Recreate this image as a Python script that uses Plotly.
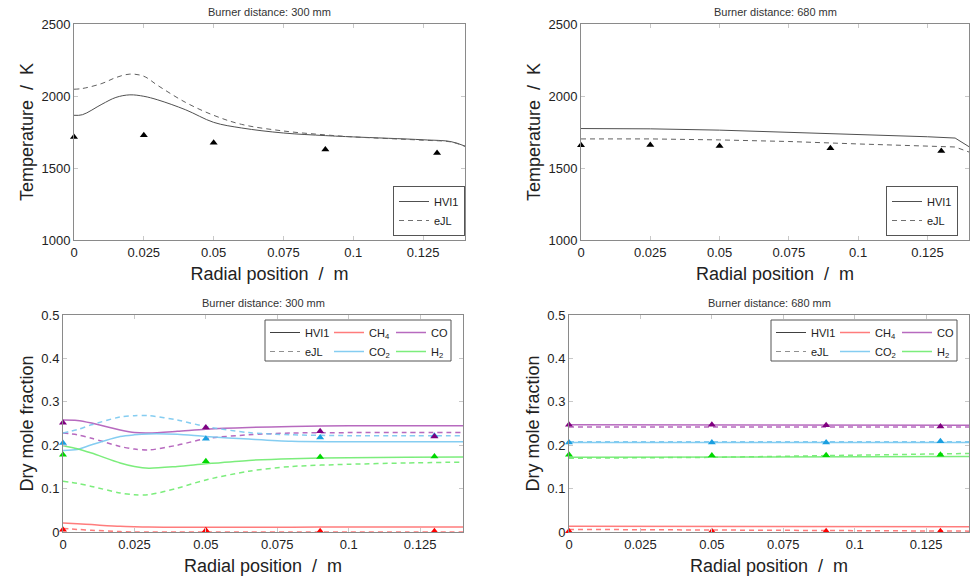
import plotly.graph_objects as go

# ---------------- data ----------------
# Temperature, burner distance 300 mm
t300_x = [0, 0.003, 0.01, 0.015, 0.02, 0.025, 0.03, 0.04, 0.05, 0.06, 0.075, 0.09, 0.1, 0.125, 0.135, 0.14]
t300_hvi1 = [1866, 1870, 1943, 1990, 2008, 1998, 1973, 1904, 1817, 1778, 1743, 1725, 1716, 1696, 1683, 1652]
t300_ejl = [2047, 2052, 2087, 2128, 2152, 2137, 2073, 1955, 1866, 1803, 1757, 1730, 1716, 1693, 1681, 1650]
t300_exp_x = [0, 0.025, 0.05, 0.09, 0.13]
t300_exp = [1716, 1727, 1676, 1628, 1604]

# Temperature, burner distance 680 mm
t680_x = [0, 0.025, 0.05, 0.075, 0.1, 0.125, 0.135, 0.14]
t680_hvi1 = [1774, 1772, 1763, 1749, 1731, 1717, 1708, 1648]
t680_ejl = [1702, 1702, 1695, 1684, 1667, 1653, 1646, 1611]
t680_exp_x = [0, 0.025, 0.05, 0.09, 0.13]
t680_exp = [1658, 1660, 1653, 1637, 1618]

# Dry mole fractions, burner distance 300 mm
m300_x = [0, 0.005, 0.01, 0.02, 0.025, 0.03, 0.04, 0.05, 0.065, 0.08, 0.1, 0.12, 0.14]
m300_co_hvi1 = [0.258, 0.257, 0.251, 0.235, 0.229, 0.228, 0.232, 0.237, 0.241, 0.243, 0.245, 0.245, 0.245]
m300_co_ejl = [0.228, 0.224, 0.216, 0.197, 0.191, 0.189, 0.200, 0.215, 0.224, 0.228, 0.229, 0.229, 0.229]
m300_co2_hvi1 = [0.188, 0.190, 0.201, 0.220, 0.224, 0.226, 0.225, 0.220, 0.214, 0.209, 0.208, 0.208, 0.208]
m300_co2_ejl = [0.228, 0.236, 0.247, 0.265, 0.268, 0.268, 0.258, 0.243, 0.229, 0.224, 0.222, 0.222, 0.222]
m300_h2_hvi1 = [0.199, 0.192, 0.182, 0.159, 0.151, 0.147, 0.151, 0.157, 0.165, 0.169, 0.171, 0.172, 0.173]
m300_h2_ejl = [0.117, 0.112, 0.105, 0.090, 0.086, 0.086, 0.101, 0.120, 0.140, 0.151, 0.156, 0.159, 0.161]
m300_ch4_hvi1 = [0.021, 0.019, 0.017, 0.013, 0.012, 0.0115, 0.011, 0.011, 0.011, 0.011, 0.0115, 0.0115, 0.0115]
m300_ch4_ejl = [0.008, 0.006, 0.004, 0.001, 0.0, 0.0, 0.0, 0.0, 0.0, 0.0, 0.0, 0.0, 0.0]
m300_exp_x = [0, 0.05, 0.09, 0.13]
m300_exp_co = [0.252, 0.241, 0.232, 0.220]
m300_exp_co2 = [0.205, 0.215, 0.218, 0.222]
m300_exp_h2 = [0.178, 0.163, 0.173, 0.174]
m300_exp_ch4 = [0.005, 0.004, 0.002, 0.002]

# Dry mole fractions, burner distance 680 mm
m680_x = [0, 0.05, 0.09, 0.14]
m680_co_hvi1 = [0.247, 0.247, 0.247, 0.246]
m680_co_ejl = [0.242, 0.242, 0.242, 0.242]
m680_co2_hvi1 = [0.206, 0.206, 0.206, 0.206]
m680_co2_ejl = [0.208, 0.208, 0.208, 0.208]
m680_h2_hvi1 = [0.172, 0.173, 0.174, 0.174]
m680_h2_ejl = [0.170, 0.172, 0.176, 0.181]
m680_ch4_hvi1 = [0.013, 0.013, 0.012, 0.012]
m680_ch4_ejl = [0.006, 0.005, 0.004, 0.002]
m680_exp_x = [0, 0.05, 0.09, 0.13]
m680_exp_co = [0.247, 0.247, 0.246, 0.243]
m680_exp_co2 = [0.206, 0.206, 0.206, 0.209]
m680_exp_h2 = [0.178, 0.176, 0.177, 0.178]
m680_exp_ch4 = [0.002, 0.002, 0.002, 0.002]

x_ticks = [0, 0.025, 0.05, 0.075, 0.1, 0.125]
x_tick_labels = ["0", "0.025", "0.05", "0.075", "0.1", "0.125"]
t_ticks = [1000, 1500, 2000, 2500]
m_ticks = [0, 0.1, 0.2, 0.3, 0.4, 0.5]
m_tick_labels = ["0", "0.1", "0.2", "0.3", "0.4", "0.5"]
titles = ["Burner distance: 300 mm", "Burner distance: 680 mm",
          "Burner distance: 300 mm", "Burner distance: 680 mm"]

# ---------------- styles ----------------
FONT = "Liberation Sans, Arial, sans-serif"
line_col = {"CH4": "rgba(255,110,110,0.9)", "CO": "rgba(170,80,180,0.85)",
            "CO2": "rgba(120,200,240,0.9)", "H2": "rgba(110,235,110,0.9)"}
mark_col = {"CH4": "#ff0000", "CO": "#800080", "CO2": "#1a9fe0", "H2": "#00d800"}
names = {"CH4": "CH<sub>4</sub>", "CO": "CO", "CO2": "CO<sub>2</sub>", "H2": "H<sub>2</sub>"}

fig = go.Figure()

def add_temp(xa, ya, x, hvi1, ejl, ex, ey, shape, leg):
    fig.add_trace(go.Scatter(x=x, y=hvi1, mode="lines", line=dict(color="#505050", width=1, shape=shape),
                             xaxis=xa, yaxis=ya, showlegend=False))
    fig.add_trace(go.Scatter(x=x, y=ejl, mode="lines", line=dict(color="#606060", width=1, dash="5px,4px", shape=shape),
                             xaxis=xa, yaxis=ya, showlegend=False))
    fig.add_trace(go.Scatter(x=ex, y=ey, mode="markers", marker=dict(symbol="triangle-up", size=7, color="black"),
                             xaxis=xa, yaxis=ya, showlegend=False, cliponaxis=False))
    fig.add_trace(go.Scatter(x=[None], y=[None], mode="lines", name="HVI1", line=dict(color="#505050", width=1),
                             xaxis=xa, yaxis=ya, legend=leg))
    fig.add_trace(go.Scatter(x=[None], y=[None], mode="lines", name="eJL", line=dict(color="#707070", width=1, dash="5px,4px"),
                             xaxis=xa, yaxis=ya, legend=leg))

add_temp("x", "y", t300_x, t300_hvi1, t300_ejl, t300_exp_x, t300_exp, "spline", "legend")
add_temp("x2", "y2", t680_x, t680_hvi1, t680_ejl, t680_exp_x, t680_exp, "linear", "legend2")

def add_mole(xa, ya, x, series, ex, exp, shape, legs):
    for sp in ["CH4", "CO", "CO2", "H2"]:
        hv, ej = series[sp]
        fig.add_trace(go.Scatter(x=x, y=ej, mode="lines", line=dict(color=line_col[sp], width=1.5, dash="5px,4px", shape=shape, smoothing=0.8),
                                 xaxis=xa, yaxis=ya, showlegend=False))
        fig.add_trace(go.Scatter(x=x, y=hv, mode="lines", line=dict(color=line_col[sp], width=1.5, shape=shape, smoothing=0.8),
                                 xaxis=xa, yaxis=ya, showlegend=False))
    for sp in ["CH4", "H2", "CO2", "CO"]:
        fig.add_trace(go.Scatter(x=ex, y=exp[sp], mode="markers",
                                 marker=dict(symbol="triangle-up", size=7, color=mark_col[sp]),
                                 xaxis=xa, yaxis=ya, showlegend=False, cliponaxis=False))
    # legend entries (three columns)
    fig.add_trace(go.Scatter(x=[None], y=[None], mode="lines", name="HVI1", line=dict(color="#404040", width=1),
                             xaxis=xa, yaxis=ya, legend=legs[0]))
    fig.add_trace(go.Scatter(x=[None], y=[None], mode="lines", name="eJL", line=dict(color="#909090", width=1, dash="5px,4px"),
                             xaxis=xa, yaxis=ya, legend=legs[0]))
    for sp, lg in [("CH4", legs[1]), ("CO2", legs[1]), ("CO", legs[2]), ("H2", legs[2])]:
        fig.add_trace(go.Scatter(x=[None], y=[None], mode="lines", name=names[sp], line=dict(color=line_col[sp], width=1.5),
                                 xaxis=xa, yaxis=ya, legend=lg))

add_mole("x3", "y3", m300_x,
         {"CH4": (m300_ch4_hvi1, m300_ch4_ejl), "CO": (m300_co_hvi1, m300_co_ejl),
          "CO2": (m300_co2_hvi1, m300_co2_ejl), "H2": (m300_h2_hvi1, m300_h2_ejl)},
         m300_exp_x, {"CH4": m300_exp_ch4, "CO": m300_exp_co, "CO2": m300_exp_co2, "H2": m300_exp_h2},
         "spline", ["legend3", "legend4", "legend5"])
add_mole("x4", "y4", m680_x,
         {"CH4": (m680_ch4_hvi1, m680_ch4_ejl), "CO": (m680_co_hvi1, m680_co_ejl),
          "CO2": (m680_co2_hvi1, m680_co2_ejl), "H2": (m680_h2_hvi1, m680_h2_ejl)},
         m680_exp_x, {"CH4": m680_exp_ch4, "CO": m680_exp_co, "CO2": m680_exp_co2, "H2": m680_exp_h2},
         "linear", ["legend6", "legend7", "legend8"])

W, H = 970, 581
def px(v): return v / W
def py(v): return 1 - v / H

doms = {
    1: ([px(74), px(465)], [py(240), py(24)]),
    2: ([px(581), px(969)], [py(240), py(24)]),
    3: ([px(63), px(463)], [py(532), py(315)]),
    4: ([px(569), px(969)], [py(532), py(315)]),
}

axis_common = dict(showgrid=False, zeroline=False, showline=True, linecolor="#8a8a8a", linewidth=1,
                   mirror="ticks", ticks="inside", ticklen=4, tickcolor="#c8c8c8", automargin=False,
                   tickfont=dict(family=FONT, size=13, color="#222"))
layout = dict(width=W, height=H, margin=dict(l=0, r=0, t=0, b=0, autoexpand=False),
              paper_bgcolor="white", plot_bgcolor="white", font=dict(family=FONT, color="#222"))
for i in range(1, 5):
    sx = "" if i == 1 else str(i)
    xd, yd = doms[i]
    layout["xaxis" + sx] = dict(axis_common, domain=xd, range=[0, 0.14], tickvals=x_ticks, ticktext=x_tick_labels,
                                anchor="y" + sx,
                                title=dict(text="Radial position  /  m", font=dict(size=18, family=FONT, color="#222"), standoff=8))
    if i <= 2:
        layout["yaxis" + sx] = dict(axis_common, domain=yd, range=[1000, 2500], tickvals=t_ticks, anchor="x" + sx,
                                    title=dict(text="Temperature  /  K", font=dict(size=18, family=FONT, color="#222"), standoff=3))
    else:
        layout["yaxis" + sx] = dict(axis_common, domain=yd, range=[0, 0.5], tickvals=m_ticks, ticktext=m_tick_labels,
                                    anchor="x" + sx,
                                    title=dict(text="Dry mole fraction", font=dict(size=18, family=FONT, color="#222"), standoff=3))

leg_common = dict(font=dict(family=FONT, size=11, color="#222"), bgcolor="rgba(0,0,0,0)",
                  xanchor="left", yanchor="top", tracegroupgap=0, itemwidth=30)
layout["legend"] = dict(leg_common, x=px(465), y=py(236), xanchor="right", yanchor="bottom",
                        bgcolor="white", bordercolor="#555", borderwidth=1)
layout["legend2"] = dict(leg_common, x=px(958), y=py(236), xanchor="right", yanchor="bottom",
                         bgcolor="white", bordercolor="#555", borderwidth=1)
LEG_W = 186
for right, legs in [(451, ["legend3", "legend4", "legend5"]), (957, ["legend6", "legend7", "legend8"])]:
    base = right - LEG_W
    for k, lg in enumerate(legs):
        layout[lg] = dict(leg_common, x=px(base + [0, 64, 126][k]), y=py(318))

fig.update_layout(**layout)

# legend frames around the three-column legends
for right in [451, 957]:
    fig.add_shape(type="rect", xref="paper", yref="paper", x0=px(right - LEG_W), x1=px(right), y0=py(361), y1=py(320),
                  line=dict(color="#555", width=1), layer="above")

# subplot titles
for i, t in enumerate(titles, start=1):
    xd, yd = doms[i]
    fig.add_annotation(text=t, xref="paper", yref="paper", x=(xd[0] + xd[1]) / 2, y=yd[1] + 4 / H,
                       xanchor="center", yanchor="bottom", showarrow=False,
                       font=dict(family=FONT, size=11, color="#333"))

fig.write_html("out.html", config={"displayModeBar": False},
               post_script="document.body.style.margin='0px';")
